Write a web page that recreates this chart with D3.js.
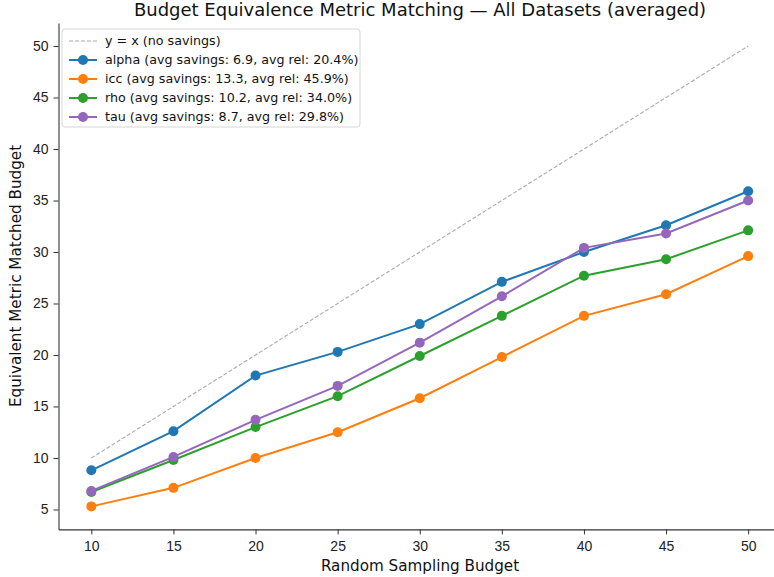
<!DOCTYPE html>
<html>
<head>
<meta charset="utf-8">
<script src="https://cdn.jsdelivr.net/npm/d3@7"></script>
<style>
	body { margin: 0; background: #fff; }
	svg { font-family: 'DejaVu Sans', sans-serif; }
	.tick text { font-size: 14px; fill: #222; }
	.tick line { stroke: #333; }
</style>
</head>
<body>
<svg width="774" height="577"></svg>
<script>
const budgets = [10, 15, 20, 25, 30, 35, 40, 45, 50];
const alpha = [8.8, 12.6, 18.0, 20.3, 23.0, 27.1, 30.0, 32.6, 35.9];
const icc = [5.3, 7.1, 10.0, 12.5, 15.8, 19.8, 23.8, 25.9, 29.6];
const rho = [6.7, 9.8, 13.0, 16.0, 19.9, 23.8, 27.7, 29.3, 32.1];
const tau = [6.8, 10.1, 13.7, 17.0, 21.2, 25.7, 30.4, 31.8, 35.0];
const seriesNames = ['alpha', 'icc', 'rho', 'tau'];
const seriesLabels = [
	'alpha (avg savings: 6.9, avg rel: 20.4%)',
	'icc (avg savings: 13.3, avg rel: 45.9%)',
	'rho (avg savings: 10.2, avg rel: 34.0%)',
	'tau (avg savings: 8.7, avg rel: 29.8%)'
];
const xTicks = [10, 15, 20, 25, 30, 35, 40, 45, 50];
const yTicks = [5, 10, 15, 20, 25, 30, 35, 40, 45, 50];

const svg = d3.select('svg');
const colors = ['#1f77b4', '#ff7f0e', '#2ca02c', '#9467bd'];
const values = [alpha, icc, rho, tau];

const xScale = d3.scaleLinear().domain([8, 52]).range([58.5, 781]);
const yScale = d3.scaleLinear().domain([3.065, 52.235]).range([529.4, 23]);

// axes
const xAxisG = svg.append('g')
	.attr('transform', `translate(0, ${yScale.range()[0]})`)
	.call(d3.axisBottom(xScale).tickValues(xTicks).tickSize(5).tickPadding(5).tickSizeOuter(0));
const yAxisG = svg.append('g')
	.attr('transform', `translate(${xScale.range()[0]}, 0)`)
	.call(d3.axisLeft(yScale).tickValues(yTicks).tickSize(5).tickPadding(5).tickSizeOuter(0));
svg.selectAll('.domain').attr('stroke', '#333').attr('stroke-width', 1.1);
xAxisG.selectAll('.tick text').attr('dy', '0.85em');

// y = x reference
const line = d3.line().x(d => xScale(d[0])).y(d => yScale(d[1]));
svg.append('path')
	.datum(budgets.map(b => [b, b]))
	.attr('d', line)
	.attr('fill', 'none')
	.attr('stroke', '#aaaaaa')
	.attr('stroke-width', 1.1)
	.attr('stroke-dasharray', '4,2');

values.forEach((vals, i) => {
	const pts = budgets.map((b, j) => [b, vals[j]]);
	svg.append('path')
		.datum(pts)
		.attr('d', line)
		.attr('fill', 'none')
		.attr('stroke', colors[i])
		.attr('stroke-width', 2);
	svg.append('g').selectAll('circle').data(pts)
		.enter().append('circle')
			.attr('cx', d => xScale(d[0]))
			.attr('cy', d => yScale(d[1]))
			.attr('r', 5)
			.attr('fill', colors[i]);
});

// labels
svg.append('text')
	.attr('x', 420).attr('y', 16)
	.attr('text-anchor', 'middle')
	.attr('font-size', '18px')
	.attr('fill', '#111')
	.text('Budget Equivalence Metric Matching — All Datasets (averaged)');
svg.append('text')
	.attr('x', 420).attr('y', 571)
	.attr('text-anchor', 'middle')
	.attr('font-size', '15.2px')
	.attr('fill', '#111')
	.text('Random Sampling Budget');
svg.append('text')
	.attr('transform', 'translate(21, 276) rotate(-90)')
	.attr('text-anchor', 'middle')
	.attr('font-size', '15.2px')
	.attr('fill', '#111')
	.text('Equivalent Metric Matched Budget');

// legend
const legend = svg.append('g').attr('transform', 'translate(62, 29)');
legend.append('rect')
	.attr('width', 298).attr('height', 98)
	.attr('rx', 3)
	.attr('fill', '#fff').attr('fill-opacity', 0.8)
	.attr('stroke', '#d6d6d6');
const rows = [{ label: 'y = x (no savings)', color: '#aaaaaa', dashed: true }]
	.concat(seriesLabels.map((l, i) => ({ label: l, color: colors[i], dashed: false })));
rows.forEach((r, i) => {
	const y = 12 + i * 19;
	legend.append('line')
		.attr('x1', 7).attr('x2', 35).attr('y1', y).attr('y2', y)
		.attr('stroke', r.color)
		.attr('stroke-width', r.dashed ? 1.1 : 2)
		.attr('stroke-dasharray', r.dashed ? '4,2' : null);
	if (!r.dashed) {
		legend.append('circle').attr('cx', 21).attr('cy', y).attr('r', 5).attr('fill', r.color);
	}
	legend.append('text')
		.attr('x', 43).attr('y', y)
		.attr('dy', '0.35em')
		.attr('font-size', '12.7px')
		.attr('fill', '#111')
		.text(r.label);
});
</script>
</body>
</html>
